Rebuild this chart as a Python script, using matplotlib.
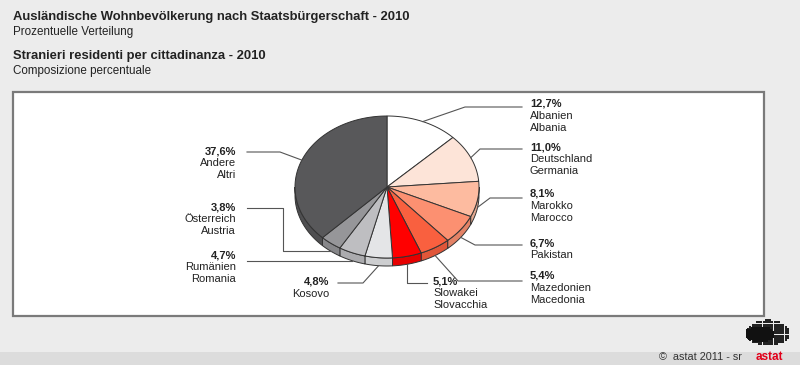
import numpy as np
import matplotlib.pyplot as plt
from matplotlib.patches import Polygon, Rectangle

plt.rcParams['font.family'] = ['Liberation Sans', 'DejaVu Sans']

# Data (clockwise from 12 o'clock)
pct_labels = ['12,7%', '11,0%', '8,1%', '6,7%', '5,4%', '5,1%', '4,8%', '4,7%', '3,8%', '37,6%']
values = [12.7, 11.0, 8.1, 6.7, 5.4, 5.1, 4.8, 4.7, 3.8, 37.6]
names_de = ['Albanien', 'Deutschland', 'Marokko', 'Pakistan', 'Mazedonien',
            'Slowakei', 'Kosovo', 'Rumänien', 'Österreich', 'Andere']
names_it = ['Albania', 'Germania', 'Marocco', '', 'Macedonia',
            'Slovacchia', '', 'Romania', 'Austria', 'Altri']
colors = ['#ffffff', '#fde4d8', '#fdbba0', '#fc9071', '#f9603f',
          '#ff0000', '#e4e5e7', '#bebec1', '#969699', '#58585a']

# label layout in pixels: text x, first line y, alignment, leader path (after anchor)
layout = [
    (530, 104, 'left', [(465, 107), (522, 107)]),
    (530, 147, 'left', [(480, 149), (522, 149)]),
    (530, 194, 'left', [(490, 198), (522, 198)]),
    (530, 243, 'left', [(475, 245), (522, 245)]),
    (530, 276, 'left', [(458, 281), (522, 281)]),
    (433, 281, 'left', [('ax', 283), (427, 283)]),
    (329, 282, 'right', [(363, 283), (338, 283)]),
    (236, 255, 'right', [('ax', 'ay'), (247, 'ay')]),
    (236, 207, 'right', [(283, 'ay'), (283, 208), (247, 208)]),
    (236, 151, 'right', [(280, 152), (247, 152)]),
]

cx, cy, rx, ry, depth = 387, 187, 92, 71, 8


def darker(c, f=0.9):
    r, g, b = [int(c[i:i + 2], 16) / 255 for i in (1, 3, 5)]
    return (r * f, g * f, b * f)


def arc(a0, a1, off=0.0, n=80):
    t = np.linspace(a0, a1, n)
    return np.column_stack([cx + rx * np.sin(t), cy - ry * np.cos(t) + off])


fig = plt.figure(figsize=(8, 3.65), dpi=100, facecolor='#ececec')
ax = fig.add_axes([0, 0, 1, 1])
ax.set_xlim(0, 800)
ax.set_ylim(365, 0)
ax.axis('off')

# bottom strip and white box
ax.add_patch(Rectangle((0, 352), 800, 13, facecolor='#dcdcdc', edgecolor='none'))
ax.add_patch(Rectangle((13, 92), 751, 224, facecolor='white', edgecolor='#7a7a7a', lw=1.6))

# titles
ax.text(13, 17, 'Ausländische Wohnbevölkerung nach Staatsbürgerschaft - 2010',
        fontsize=9.4, fontweight='bold', color='#222222', va='center')
ax.text(13, 32, 'Prozentuelle Verteilung', fontsize=8.4, color='#222222', va='center')
ax.text(13, 56, 'Stranieri residenti per cittadinanza - 2010',
        fontsize=9.4, fontweight='bold', color='#222222', va='center')
ax.text(13, 71, 'Composizione percentuale', fontsize=8.4, color='#222222', va='center')

# pie
total = sum(values)
bounds = np.concatenate([[0], np.cumsum(values)]) / total * 2 * np.pi
edge = '#333333'

# sides (front half only)
for i in range(len(values)):
    a0, a1 = max(bounds[i], np.pi / 2), min(bounds[i + 1], 1.5 * np.pi)
    if a1 <= a0:
        continue
    pts = np.vstack([arc(a0, a1), arc(a0, a1, depth)[::-1]])
    ax.add_patch(Polygon(pts, closed=True, facecolor=darker(colors[i]),
                         edgecolor=edge, lw=0.7, zorder=2))

# top faces
for i in range(len(values)):
    pts = np.vstack([[cx, cy], arc(bounds[i], bounds[i + 1])])
    ax.add_patch(Polygon(pts, closed=True, facecolor=colors[i],
                         edgecolor=edge, lw=0.7, zorder=3))

# labels and leader lines
for i in range(len(values)):
    mid = (bounds[i] + bounds[i + 1]) / 2
    axp = cx + rx * np.sin(mid)
    ayp = cy - ry * np.cos(mid)
    if np.pi / 2 < mid < 1.5 * np.pi:
        ayp += depth
    tx, ty, ha, path = layout[i]
    xs, ys = [axp], [ayp]
    for px, py in path:
        xs.append(axp if px == 'ax' else px)
        ys.append(ayp if py == 'ay' else py)
    ax.plot(xs, ys, color='#555555', lw=0.8, zorder=4)
    ax.text(tx, ty, pct_labels[i], fontsize=8, fontweight='bold', color='#222222',
            ha=ha, va='center')
    ax.text(tx, ty + 12, names_de[i], fontsize=8, color='#222222', ha=ha, va='center')
    if names_it[i]:
        ax.text(tx, ty + 24, names_it[i], fontsize=8, color='#222222', ha=ha, va='center')

# footer
ax.text(742, 357, '©  astat 2011 - sr', fontsize=7.8, color='#333333', ha='right', va='center')
ax.text(769, 357, 'astat', fontsize=8.5, fontweight='bold', color='#e2001a', ha='center', va='center')

# logo (dotted blob)
gx, gy = np.meshgrid(np.arange(746, 792, 2.2), np.arange(318, 347, 2.2))
gx, gy = gx.ravel(), gy.ravel()
inside = ((gx - 768) / 22) ** 2 + ((gy - 333) / 13) ** 2 < 1
ax.scatter(gx[inside], gy[inside], s=1.2, marker='s', color='#222222', lw=0)
blob = ((gx - 760) / 13) ** 2 + ((gy - 334) / 7) ** 2 < 1
ax.scatter(gx[blob], gy[blob], s=5, marker='s', color='#111111', lw=0)

fig.savefig('out.png', dpi=100, facecolor=fig.get_facecolor())
